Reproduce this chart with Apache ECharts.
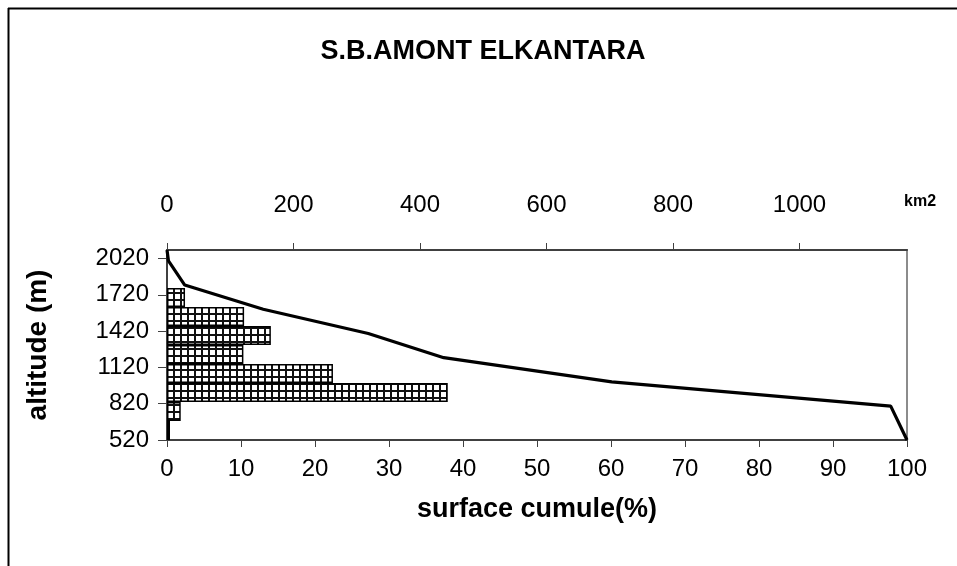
<!DOCTYPE html>
<html>
<head>
<meta charset="utf-8">
<script src="https://cdn.jsdelivr.net/npm/echarts@6/dist/echarts.min.js"></script>
<style>
html,body{margin:0;padding:0;background:#fff;}
#chart{width:957px;height:566px;}
</style>
</head>
<body>
<div id="chart"></div>
<script>
// ---- data ----
const bandNames = ['T1','T2','T3','T4','T5','T6','T7','T8','T9','T10'];
const bandArea = [4.7, 21.7, 443.9, 262.4, 120.8, 164.2, 121.9, 28.5, null, null]; // km2
const cumPct = [100, 97.8, 60.1, 37.4, 27.2, 13.0, 2.4, 0.2, 0];
const cumAlt = [520, 800, 1000, 1200, 1400, 1600, 1800, 2000, 2090];
const altTicks = [520, 820, 1120, 1420, 1720, 2020];

const FONT = '"Liberation Sans", Arial, sans-serif';
const plain = v => String(v);

// hatch pattern
const pc = document.createElement('canvas');
pc.width = 7; pc.height = 7;
const g = pc.getContext('2d');
g.fillStyle = '#fff'; g.fillRect(0,0,7,7);
g.fillStyle = '#111';
g.fillRect(5,0,2,7);
g.fillRect(0,5,7,2);

const chart = echarts.init(document.getElementById('chart'), null, {renderer:'canvas'});
chart.setOption({
  backgroundColor: '#fff',
  animation: false,
  title: {
    text: 'S.B.AMONT ELKANTARA',
    left: 478, top: 33, textAlign: 'center',
    textStyle: {fontFamily: FONT, fontSize: 27, fontWeight: 'bold', color: '#000'}
  },
  graphic: [
    {type:'line', shape:{x1:8,y1:8.5,x2:957,y2:8.5}, style:{stroke:'#000', lineWidth:2}},
    {type:'line', shape:{x1:8.5,y1:8,x2:8.5,y2:566}, style:{stroke:'#000', lineWidth:2}},
    {type:'text', left: 904, top: 194, style:{text:'km2', font:'bold 16px ' + FONT, fill:'#000'}}
  ],
  grid: {left:167, right:50, top:250, bottom:126, show:true, borderColor:'#8c8c8c', borderWidth:2, backgroundColor:'#fff'},
  xAxis: [
    {
      type:'value', position:'bottom', min:0, max:100, interval:10,
      name:'surface cumule(%)', nameLocation:'middle', nameGap:56,
      nameTextStyle:{fontFamily:FONT, fontSize:27, fontWeight:'bold', color:'#000'},
      axisLine:{show:true, lineStyle:{color:'#404040', width:2}},
      axisTick:{show:true, inside:false, length:7, lineStyle:{color:'#404040', width:1}},
      axisLabel:{fontFamily:FONT, fontSize:24, color:'#000', margin:17, formatter: plain},
      splitLine:{show:false}
    },
    {
      type:'value', position:'top', min:0, max:1170, interval:200,
      axisLine:{show:true, lineStyle:{color:'#404040', width:2}},
      axisTick:{show:true, inside:false, length:7, lineStyle:{color:'#404040', width:1}},
      axisLabel:{fontFamily:FONT, fontSize:24, color:'#000', margin:33, showMaxLabel:false, formatter: plain},
      splitLine:{show:false}
    }
  ],
  yAxis: [
    {
      type:'value', min:520, max:2090,
      name:'altitude (m)', nameLocation:'middle', nameGap:115, nameRotate:90,
      nameTextStyle:{fontFamily:FONT, fontSize:28, fontWeight:'bold', color:'#000'},
      axisLine:{show:true, lineStyle:{color:'#404040', width:2}},
      axisTick:{show:true, inside:false, length:9, customValues: altTicks, lineStyle:{color:'#404040', width:1}},
      axisLabel:{fontFamily:FONT, fontSize:24, color:'#000', margin:18, customValues: altTicks, formatter: plain},
      splitLine:{show:false}
    },
    {
      type:'category', data: bandNames, show:false, boundaryGap:true
    }
  ],
  series: [
    {
      type:'bar', xAxisIndex:1, yAxisIndex:1, data: bandArea,
      barCategoryGap:'0%', barGap:'0%',
      itemStyle:{color:{image: pc, repeat:'repeat'}, borderColor:'#000', borderWidth:1.5}
    },
    {
      type:'line', xAxisIndex:0, yAxisIndex:0,
      data: cumPct.map((p,i)=>[p, cumAlt[i]]),
      showSymbol:false, clip:false,
      lineStyle:{color:'#000', width:3.2}
    }
  ]
});
</script>
</body>
</html>
